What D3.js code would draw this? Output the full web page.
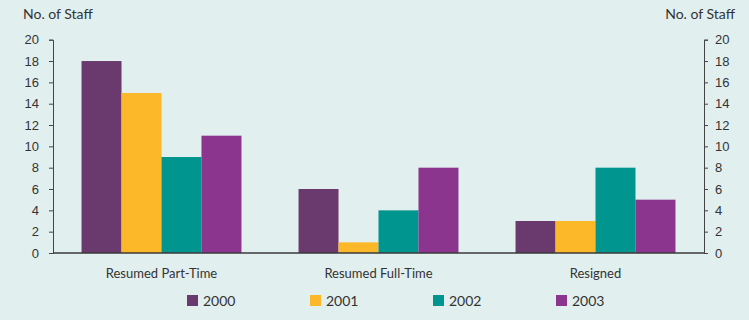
<!DOCTYPE html>
<html>
<head>
<meta charset="utf-8">
<script src="https://cdn.jsdelivr.net/npm/d3@7.9.0/dist/d3.min.js"></script>
<style>
  body { margin: 0; background: #e1efef; }
  svg { display: block; font-family: Lato, "Open Sans", sans-serif; }
  .axis text { font-size: 13px; fill: #333; }
  .axis path, .axis line { stroke: #444; }
</style>
</head>
<body>
<div id="chart"></div>
<script>
const categories = ["Resumed Part-Time", "Resumed Full-Time", "Resigned"];
const years = ["2000", "2001", "2002", "2003"];
const values2000 = [18, 6, 3];
const values2001 = [15, 1, 3];
const values2002 = [9, 4, 8];
const values2003 = [11, 8, 5];
const yTicks = [0, 2, 4, 6, 8, 10, 12, 14, 16, 18, 20];
const colors = ["#6a3a6e", "#fdb82a", "#00958f", "#8c358f"];

const W = 749, H = 320;
const LEFT = 53, RIGHT = 704, BASE = 253, TOP = 39.7;

const series = [values2000, values2001, values2002, values2003];

const svg = d3.select("#chart").append("svg")
  .attr("width", W).attr("height", H);

svg.append("rect").attr("width", W).attr("height", H).attr("fill", "#e1efef");

const x0 = d3.scaleBand().domain(categories).range([LEFT, RIGHT])
  .paddingInner(0.263).paddingOuter(0.1315);
const x1 = d3.scaleBand().domain(years).range([0, x0.bandwidth()]);
const y = d3.scaleLinear().domain([0, 20]).range([BASE, TOP]);

// bars
categories.forEach((c, ci) => {
  years.forEach((yr, yi) => {
    svg.append("rect")
      .attr("x", x0(c) + x1(yr))
      .attr("y", y(series[yi][ci]))
      .attr("width", x1.bandwidth())
      .attr("height", y(0) - y(series[yi][ci]))
      .attr("fill", colors[yi]);
  });
});

// left axis
svg.append("g").attr("class", "axis")
  .attr("transform", `translate(${LEFT},0)`)
  .call(d3.axisLeft(y).tickValues(yTicks).tickSize(4).tickSizeOuter(4).tickPadding(10));

// right axis
svg.append("g").attr("class", "axis")
  .attr("transform", `translate(${RIGHT},0)`)
  .call(d3.axisRight(y).tickValues(yTicks).tickSize(4).tickSizeOuter(4).tickPadding(7));

// baseline
svg.append("line")
  .attr("x1", LEFT).attr("x2", RIGHT)
  .attr("y1", y(0)).attr("y2", y(0))
  .attr("stroke", "#3a3a3a").attr("stroke-width", 1.5);

// category labels
svg.selectAll(".cat").data(categories).join("text")
  .attr("x", d => x0(d) + x0.bandwidth() / 2)
  .attr("y", 278)
  .attr("text-anchor", "middle")
  .attr("font-size", 13)
  .attr("fill", "#333")
  .text(d => d);

// axis titles
svg.append("text").attr("x", 23).attr("y", 19)
  .attr("font-size", 14).attr("fill", "#333").text("No. of Staff");
svg.append("text").attr("x", 735).attr("y", 19)
  .attr("text-anchor", "end")
  .attr("font-size", 14).attr("fill", "#333").text("No. of Staff");

// legend
const legend = svg.append("g").attr("transform", "translate(187,295)");
years.forEach((yr, i) => {
  const g = legend.append("g").attr("transform", `translate(${i * 123},0)`);
  g.append("rect").attr("width", 11).attr("height", 11).attr("fill", colors[i]);
  g.append("text").attr("x", 16).attr("y", 10.5)
    .attr("font-size", 14).attr("fill", "#333").text(yr);
});
</script>
</body>
</html>
